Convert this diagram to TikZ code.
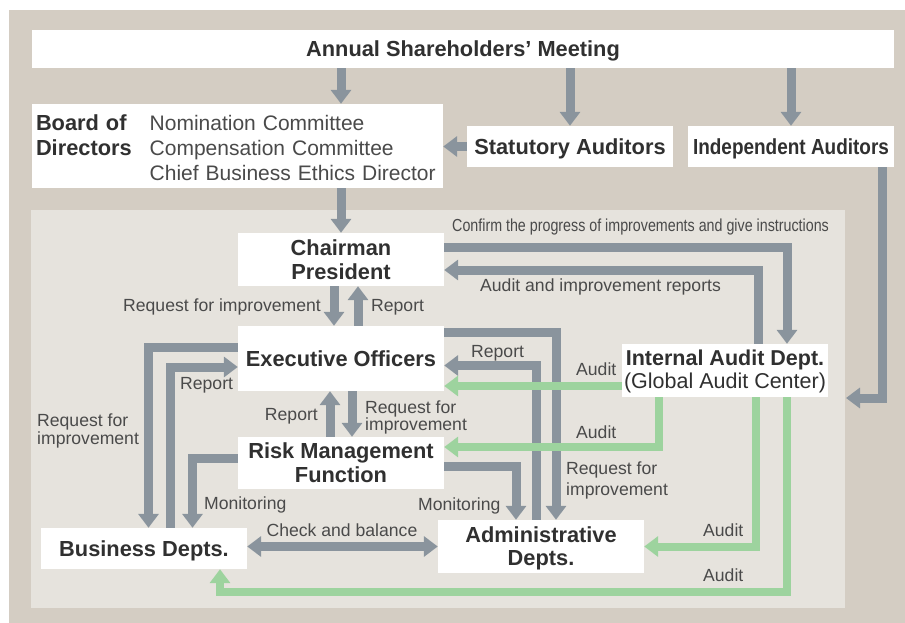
\documentclass[tikz,border=0pt]{standalone}
\usepackage{fontspec}
\setmainfont{Liberation Sans}
\newfontfamily\narrowfont[FakeStretch=0.82]{Liberation Sans}
\usepackage{graphicx}
\usepackage{tikz}
\usetikzlibrary{arrows.meta}
\definecolor{tanbg}{HTML}{D4CDC3}
\definecolor{panelbg}{HTML}{E6E3DD}
\definecolor{barcol}{HTML}{8A949D}
\definecolor{greencol}{HTML}{9DD39E}
\definecolor{boldtext}{HTML}{303030}
\definecolor{labeltext}{HTML}{4A4A4A}

\begin{document}
\begin{tikzpicture}[x=1pt,y=-1pt,
            >={Triangle[width=20pt,length=14pt]},
            box node/.style={rectangle, fill=white, text=boldtext, minimum width=\W, inner sep=0pt, text depth=0pt, align=center, font=\fontsize{21.8}{24}\selectfont\bfseries},
            label node/.style={text=labeltext, inner sep=0pt, text depth=0pt, align=left, font=\fontsize{17.6}{18}\selectfont},
            gray arrow/.style={draw=barcol, line width=9pt, ->},
            green arrow/.style={draw=greencol, line width=8pt, ->},
            ]
            \def\W{206}

            \useasboundingbox (0,0) rectangle (905,623);
            \fill[white] (0,0) rectangle (905,623);
            \fill[tanbg] (9,10) rectangle (905,623);
            \fill[panelbg] (31,210) rectangle (845,608);

            \node[box node, minimum width=862, minimum height=38] (asm) at (463,49) {Annual Shareholders’ Meeting};
            \node[box node, minimum width=411, minimum height=84, text width=403, inner sep=4pt, text height=47.5pt, text depth=27.5pt, align=left, text=labeltext, font=\fontsize{21}{25}\selectfont] (board) at (237.5,146) {%
              \begin{tabular}{@{}l@{\hspace{18pt}}l@{}}
              \color{boldtext}\fontsize{21.8}{25}\selectfont\bfseries Board of & Nomination Committee\\
              \color{boldtext}\fontsize{21.8}{25}\selectfont\bfseries Directors & Compensation Committee\\
               & Chief Business Ethics Director
              \end{tabular}};
            \node[box node, minimum height=41] (stat) at (570,146.5) {Statutory Auditors};
            \node[box node, minimum height=41] (indep) at (791,146.5) {\scalebox{0.87}[1]{Independent Auditors}};
            \node[box node, minimum height=53] (chair) at (341,259.5) {Chairman\\President};
            \node[box node, minimum height=65] (exec) at (341,358.5) {Executive Officers};
            \node[box node, minimum height=52] (risk) at (341,463) {Risk Management\\Function};
            \node[box node, minimum height=53, text depth=2pt, font=\fontsize{21.5}{23}\selectfont] (intaud) at (725,370.5) {\bfseries Internal Audit Dept.\\\mdseries (Global Audit Center)};
            \node[box node, minimum height=41] (bus) at (144,548.5) {Business Depts.};
            \node[box node, minimum height=53, font=\fontsize{21.8}{23}\selectfont\bfseries] (admin) at (541,546.5) {Administrative\\Depts.};
            \coordinate (audin) at (846,398);

            % top level
            \draw[gray arrow] (asm.south -| chair) -- (board.north -| chair);
            \draw[gray arrow] (asm.south -| stat) -- (stat);
            \draw[gray arrow] (asm.south -| indep) -- (indep);
            \draw[gray arrow] (stat) -- (board.east |- stat);
            \draw[gray arrow] (board.south -| chair) -- (chair);
            \draw[gray arrow] ([xshift=91pt]indep.south) |- (audin);

            % chairman and internal audit
            \draw[gray arrow] ([yshift=12.5pt]chair.east) -| ([xshift=62pt]intaud.north);
            \draw[gray arrow] ([xshift=33pt]intaud.north) |- ([yshift=-10.5pt]chair.east);
            \draw[gray arrow] ([xshift=-7pt]chair.south) -- ([xshift=-7pt]exec.north);
            \draw[gray arrow] ([xshift=17pt]exec.north) -- ([xshift=17pt]chair.south);
            \draw[gray arrow] ([xshift=-11pt]risk.north) -- ([xshift=-11pt]exec.south);
            \draw[gray arrow] ([xshift=11pt]exec.south) -- ([xshift=11pt]risk.north);

            % business side
            \draw[gray arrow] ([yshift=11.5pt]exec.west) -| ([xshift=4.5pt]bus.north);
            \draw[gray arrow] ([xshift=26pt]bus.north) |- ([yshift=-8.5pt]exec.west);
            \draw[gray arrow] ([yshift=5pt]risk.west) -| ([xshift=48.5pt]bus.north);

            % administrative side
            \draw[gray arrow] ([yshift=26.5pt]exec.east) -| ([xshift=15pt]admin.north);
            \draw[gray arrow] ([xshift=-5pt]admin.north) |- ([yshift=-7pt]exec.east);
            \draw[gray arrow] ([yshift=-3pt]risk.east) -| ([xshift=-25pt]admin.north);
            \draw[gray arrow, <->] (bus.east |- admin.west) -- (admin.west);

            % audits
            \draw[green arrow] ([yshift=-15.5pt]intaud.west) -- ([yshift=-27.5pt]exec.east);
            \draw[green arrow] ([xshift=-66pt]intaud.south) |- ([yshift=16pt]risk.east);
            \draw[green arrow] ([xshift=31pt]intaud.south) |- (admin.east);
            \draw[green arrow] ([xshift=62pt]intaud.south) -- ++(0,195) -| ([xshift=76pt]bus.south);

            % labels
            \node[label node, anchor=west, font=\fontsize{17.4}{18}\narrowfont] (lconfirm) at (452,225) {Confirm the progress of improvements and give instructions};
            \node[label node, anchor=west] (lauditrep) at (480,285) {Audit and improvement reports};
            \node[label node, anchor=east] (lreqchair) at (321,305) {Request for improvement};
            \node[label node, anchor=west] (lrepchair) at (371,305) {Report};
            \node[label node, anchor=east] (lreprisk) at (318,414) {Report};
            \node[label node, anchor=west, font=\fontsize{17.6}{17}\selectfont] (lreqrisk) at (365,416) {Request for\\improvement};
            \node[label node, anchor=west] (lreqbus) at (37,429) {Request for\\improvement};
            \node[label node, anchor=west] (lrepbus) at (180,383) {Report};
            \node[label node, anchor=west] (lmonbus) at (204,503) {Monitoring};
            \node[label node] (lcheck) at (342,530) {Check and balance};
            \node[label node, anchor=west] (lrepadm) at (471,351) {Report};
            \node[label node, anchor=west, font=\fontsize{17.6}{21}\selectfont] (lreqadm) at (566,479) {Request for\\improvement};
            \node[label node, anchor=west] (lmonadm) at (418,504) {Monitoring};
            \node[label node, anchor=west] (laudexec) at (576,369) {Audit};
            \node[label node, anchor=west] (laudrisk) at (576,432) {Audit};
            \node[label node, anchor=west] (laudadm) at (703,530) {Audit};
            \node[label node, anchor=west] (laudbus) at (703,575) {Audit};
        \end{tikzpicture}
\end{document}
